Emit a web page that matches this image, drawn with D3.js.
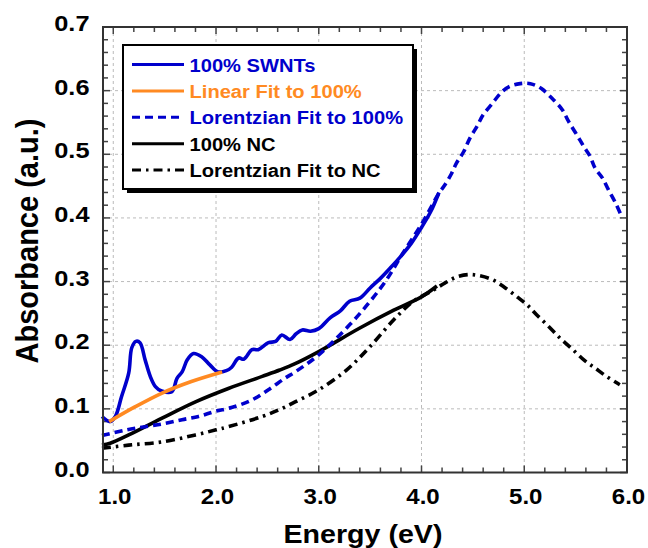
<!DOCTYPE html>
<html>
<head>
<meta charset="utf-8">
<script src="https://cdn.jsdelivr.net/npm/d3@7"></script>
<style>
  body { margin: 0; background: #fff; }
  text { font-family: "Liberation Sans", Arial, sans-serif; font-weight: bold; }
</style>
</head>
<body>
<div id="chart"></div>
<script>
// 100% SWNTs (measured)
const swntE = [0.89, 0.97, 1.02, 1.08, 1.15, 1.18, 1.22, 1.26, 1.31, 1.36, 1.41, 1.47, 1.57, 1.62, 1.67, 1.72, 1.78, 1.86, 1.94, 2.02, 2.10, 2.15, 2.22, 2.27, 2.35, 2.41, 2.51, 2.58, 2.64, 2.72, 2.78, 2.84, 2.92, 3.00, 3.11, 3.21, 3.30, 3.40, 3.50, 3.60, 3.70, 3.80, 3.90, 4.00, 4.09, 4.17];
const swntA = [0.088, 0.080, 0.088, 0.119, 0.156, 0.196, 0.206, 0.204, 0.177, 0.151, 0.135, 0.128, 0.127, 0.148, 0.158, 0.177, 0.187, 0.182, 0.169, 0.158, 0.160, 0.165, 0.180, 0.178, 0.193, 0.193, 0.204, 0.206, 0.216, 0.209, 0.218, 0.224, 0.222, 0.226, 0.243, 0.254, 0.269, 0.274, 0.290, 0.305, 0.322, 0.340, 0.360, 0.385, 0.410, 0.440];

// Linear fit to 100%
const linE = [0.96, 1.21, 1.47, 1.76, 2.06];
const linA = [0.080, 0.103, 0.1245, 0.143, 0.158];

// Lorentzian fit to 100%
const lor100E = [0.89, 1.10, 1.31, 1.50, 1.67, 1.83, 1.99, 2.15, 2.35, 2.51, 2.67, 2.77, 3.00, 3.30, 3.50, 3.66, 3.82, 4.00, 4.17, 4.22, 4.29, 4.34, 4.41, 4.47, 4.54, 4.60, 4.69, 4.77, 4.85, 4.96, 5.06, 5.16, 5.27, 5.37, 5.43, 5.51, 5.58, 5.64, 5.69, 5.76, 5.82, 5.89, 5.94];
const lor100A = [0.058, 0.066, 0.072, 0.077, 0.083, 0.088, 0.096, 0.102, 0.114, 0.130, 0.148, 0.158, 0.185, 0.232, 0.269, 0.303, 0.345, 0.390, 0.439, 0.450, 0.469, 0.486, 0.504, 0.525, 0.544, 0.562, 0.580, 0.596, 0.606, 0.611, 0.611, 0.604, 0.588, 0.570, 0.552, 0.531, 0.512, 0.497, 0.478, 0.463, 0.444, 0.423, 0.405];

// 100% NC
const ncE = [0.89, 0.97, 1.15, 1.47, 1.80, 2.12, 2.45, 2.62, 2.77, 3.00, 3.40, 3.73, 4.00, 4.15];
const ncA = [0.043, 0.046, 0.059, 0.085, 0.111, 0.132, 0.151, 0.161, 0.171, 0.190, 0.227, 0.255, 0.276, 0.293];

// Lorentzian fit to NC
const lorNcE = [0.89, 1.15, 1.47, 1.80, 2.00, 2.12, 2.45, 2.62, 2.77, 3.00, 3.27, 3.50, 3.73, 3.92, 4.12, 4.23, 4.34, 4.46, 4.57, 4.69, 4.80, 4.93, 5.03, 5.12, 5.24, 5.35, 5.46, 5.58, 5.69, 5.80, 5.93];
const lorNcA = [0.038, 0.043, 0.048, 0.059, 0.067, 0.072, 0.088, 0.099, 0.111, 0.130, 0.161, 0.198, 0.240, 0.269, 0.287, 0.298, 0.307, 0.311, 0.309, 0.303, 0.292, 0.276, 0.263, 0.248, 0.229, 0.211, 0.195, 0.177, 0.164, 0.151, 0.138];

const xTicks = [1, 2, 3, 4, 5, 6];
const yTicks = [0, 0.1, 0.2, 0.3, 0.4, 0.5, 0.6, 0.7];

const legendLabels = ["100% SWNTs", "Linear Fit to 100%", "Lorentzian Fit to 100%", "100% NC", "Lorentzian Fit to NC"];

const BLUE = "#0000cc", ORANGE = "#ff8a22", BLACK = "#000";

const W = 648, H = 548;
const margin = { top: 27, right: 21, bottom: 75.5, left: 103 };
const iw = W - margin.left - margin.right;
const ih = H - margin.top - margin.bottom;

const svg = d3.select("#chart").append("svg").attr("width", W).attr("height", H);
const g = svg.append("g").attr("transform", `translate(${margin.left},${margin.top})`);

const x = d3.scaleLinear().domain([0.9, 6.0]).range([0, iw]);
const y = d3.scaleLinear().domain([0, 0.7]).range([ih, 0]);

// gridlines
g.append("g").selectAll("line").data(xTicks.filter(d => d < 6)).join("line")
  .attr("x1", d => x(d)).attr("x2", d => x(d)).attr("y1", 0).attr("y2", ih)
  .attr("stroke", "#bbb").attr("stroke-width", 1).attr("stroke-dasharray", "3,3");
g.append("g").selectAll("line").data(yTicks.filter(d => d > 0 && d < 0.7)).join("line")
  .attr("x1", 0).attr("x2", iw).attr("y1", d => y(d)).attr("y2", d => y(d))
  .attr("stroke", "#bbb").attr("stroke-width", 1).attr("stroke-dasharray", "3,3");

// ticks inside on all four sides
const xMinor = d3.range(10, 61, 2).map(d => d / 10);
const yMinor = d3.range(0, 71, 2).map(d => d / 100);
const tickG = g.append("g").attr("stroke", "#444").attr("stroke-width", 1.5);
xMinor.forEach(v => {
  const len = xTicks.includes(v) ? 7 : 5;
  tickG.append("line").attr("x1", x(v)).attr("x2", x(v)).attr("y1", ih).attr("y2", ih - len);
  tickG.append("line").attr("x1", x(v)).attr("x2", x(v)).attr("y1", 0).attr("y2", len);
});
yMinor.forEach(v => {
  const major = Math.abs(Math.round(v * 10) - v * 10) < 1e-6;
  const len = major ? 7 : 5;
  tickG.append("line").attr("x1", 0).attr("x2", len).attr("y1", y(v)).attr("y2", y(v));
  tickG.append("line").attr("x1", iw).attr("x2", iw - len).attr("y1", y(v)).attr("y2", y(v));
});

// tick labels (text in the reference is slightly wide, so stretch horizontally)
g.append("g").selectAll("text").data(xTicks).join("text")
  .attr("transform", d => `translate(${x(d) + 1.5},${ih + 31}) scale(1.12,1)`)
  .attr("text-anchor", "middle")
  .attr("font-size", 21.5).text(d => d3.format(".1f")(d));
g.append("g").selectAll("text").data(yTicks).join("text")
  .attr("transform", d => `translate(-13.5,${y(d) + 4}) scale(1.18,1)`)
  .attr("text-anchor", "end")
  .attr("font-size", 21.5).text(d => d3.format(".1f")(d));

// axis titles
svg.append("text").attr("transform", `translate(${margin.left + iw / 2 - 2},543) scale(1.1,1)`)
  .attr("text-anchor", "middle").attr("font-size", 26).text("Energy (eV)");
svg.append("text").attr("transform", `translate(38,241) scale(1.1,1) rotate(-90)`)
  .attr("text-anchor", "middle").attr("font-size", 29).text("Absorbance (a.u.)");

// curves
const line = d3.line().x(d => x(d[0])).y(d => y(d[1])).curve(d3.curveCatmullRom.alpha(0.5));
const zip = (a, b) => a.map((v, i) => [v, b[i]]);

const series = [
  { e: lorNcE, a: lorNcA, color: BLACK, dash: "9,5,2.5,5" },
  { e: ncE, a: ncA, color: BLACK, dash: null },
  { e: lor100E, a: lor100A, color: BLUE, dash: "8,5" },
  { e: swntE, a: swntA, color: BLUE, dash: null },
  { e: linE, a: linA, color: ORANGE, dash: null }
];
series.forEach(s => {
  g.append("path").datum(zip(s.e, s.a))
    .attr("d", line).attr("fill", "none")
    .attr("stroke", s.color).attr("stroke-width", 3.6)
    .attr("stroke-linejoin", "round")
    .attr("stroke-dasharray", s.dash);
});

// frame
g.append("rect").attr("width", iw).attr("height", ih)
  .attr("fill", "none").attr("stroke", "#333").attr("stroke-width", 2);

// legend
const lg = svg.append("g");
lg.append("rect").attr("x", 127).attr("y", 49).attr("width", 290).attr("height", 144).attr("fill", "#000");
lg.append("rect").attr("x", 123).attr("y", 45).attr("width", 290).attr("height", 144)
  .attr("fill", "#fff").attr("stroke", "#000").attr("stroke-width", 2);
const legendStyles = [
  { color: BLUE, dash: null, text: BLUE },
  { color: ORANGE, dash: null, text: ORANGE },
  { color: BLUE, dash: "8,5", text: BLUE },
  { color: BLACK, dash: null, text: BLACK },
  { color: BLACK, dash: "9,5,2.5,5", text: BLACK }
];
legendLabels.forEach((lab, i) => {
  const cy = 64.5 + i * 26.4;
  const st = legendStyles[i];
  lg.append("line").attr("x1", 132).attr("x2", 184).attr("y1", cy).attr("y2", cy)
    .attr("stroke", st.color).attr("stroke-width", 3).attr("stroke-dasharray", st.dash);
  lg.append("text").attr("transform", `translate(189.5,${cy + 7}) scale(1.06,1)`)
    .attr("font-size", 19).attr("fill", st.text).text(lab);
});
</script>
</body>
</html>
